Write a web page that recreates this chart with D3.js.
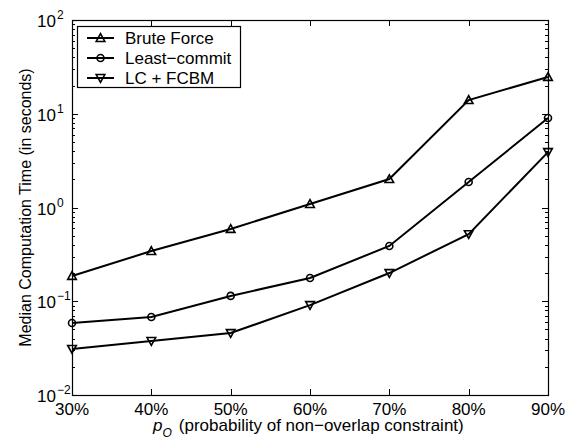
<!DOCTYPE html>
<html>
<head>
<meta charset="utf-8">
<script src="https://cdn.jsdelivr.net/npm/d3@7"></script>
<style>
	body { margin: 0; background: #fff; }
	svg { display: block; font-family: "Liberation Sans", Arial, sans-serif; }
</style>
</head>
<body>
<div id="chart"></div>
<script>
;(function(){
	var w = 573;
	var h = 441;

	// data
	var categories = [30, 40, 50, 60, 70, 80, 90];
	var tickLabels = ["30%", "40%", "50%", "60%", "70%", "80%", "90%"];
	var bruteForce = [0.186, 0.343, 0.59, 1.09, 2.01, 14, 24.7];
	var leastCommit = [0.0586, 0.068, 0.114, 0.177, 0.389, 1.87, 9.0];
	var lcFcbm = [0.031, 0.0377, 0.0458, 0.091, 0.2, 0.52, 3.9];
	var seriesNames = ["Brute Force", "Least\u2212commit", "LC + FCBM"];
	var markers = ["up", "circle", "down"];

	var series = [bruteForce, leastCommit, lcFcbm];

	var xrange = [72, 548];
	var yrange = [395, 20];

	var xscale = d3.scaleLinear().domain([30, 90]).range(xrange);
	var yscale = d3.scaleLog().domain([0.01, 100]).range(yrange);

	var svg = d3.select("#chart").append("svg")
		.attr("width", w)
		.attr("height", h);

	// minor log ticks (left and right, inward)
	var minor = [];
	for (var e = -2; e < 2; e++) {
		for (var m = 2; m <= 9; m++) minor.push(m * Math.pow(10, e));
	}
	var g = svg.append("g").attr("stroke", "#000").attr("stroke-width", 1);
	minor.forEach(function(v){
		var y = Math.round(yscale(v)) + 0.5;
		g.append("line").attr("x1", xrange[0]).attr("x2", xrange[0] + 3).attr("y1", y).attr("y2", y);
		g.append("line").attr("x1", xrange[1]).attr("x2", xrange[1] - 3).attr("y1", y).attr("y2", y);
	});

	// major y ticks
	var majors = [0.01, 0.1, 1, 10, 100];
	majors.forEach(function(v){
		var y = Math.round(yscale(v)) + 0.5;
		g.append("line").attr("x1", xrange[0]).attr("x2", xrange[0] + 6).attr("y1", y).attr("y2", y);
		g.append("line").attr("x1", xrange[1]).attr("x2", xrange[1] - 6).attr("y1", y).attr("y2", y);
	});

	// x ticks top and bottom
	categories.forEach(function(v){
		var x = Math.round(xscale(v)) + 0.5;
		g.append("line").attr("x1", x).attr("x2", x).attr("y1", yrange[0]).attr("y2", yrange[0] - 6);
		g.append("line").attr("x1", x).attr("x2", x).attr("y1", yrange[1]).attr("y2", yrange[1] + 6);
	});

	// frame
	svg.append("rect")
		.attr("x", xrange[0] + 0.5)
		.attr("y", yrange[1] + 0.5)
		.attr("width", xrange[1] - xrange[0])
		.attr("height", yrange[0] - yrange[1])
		.attr("fill", "none")
		.attr("stroke", "#000")
		.attr("stroke-width", 1.2);

	// x tick labels
	svg.selectAll("text.x-axis-tick")
		.data(categories)
		.enter().append("text")
			.attr("class", "x-axis-tick")
			.attr("x", function(d){ return xscale(d); })
			.attr("y", yrange[0] + 20)
			.attr("fill", "#000")
			.style("text-anchor", "middle")
			.style("font-size", "17px")
			.text(function(d, i){ return tickLabels[i]; });

	// y tick labels 10^n
	svg.selectAll("text.y-axis-tick")
		.data(majors)
		.enter().append("text")
			.attr("class", "y-axis-tick")
			.attr("x", xrange[0] - 16)
			.attr("y", function(d){ return yscale(d) + 7; })
			.attr("fill", "#000")
			.style("text-anchor", "end")
			.style("font-size", "17px")
			.text("10");
	svg.selectAll("text.y-axis-exp")
		.data(majors)
		.enter().append("text")
			.attr("class", "y-axis-exp")
			.attr("x", xrange[0] - 15)
			.attr("y", function(d){ return yscale(d) - 1; })
			.attr("fill", "#000")
			.style("font-size", "12px")
			.text(function(d){
				var e = Math.round(Math.log10(d));
				return e < 0 ? "\u2212" + (-e) : "" + e;
			});

	// axis titles
	svg.append("text")
		.attr("transform", "translate(31," + ((yrange[0] + yrange[1]) / 2) + ") rotate(-90)")
		.attr("fill", "#000")
		.style("text-anchor", "middle")
		.style("font-size", "16px")
		.text("Median Computation Time (in seconds)");

	var xt = svg.append("text")
		.attr("x", 153)
		.attr("y", 431)
		.attr("fill", "#000")
		.style("font-size", "17px");
	xt.append("tspan").style("font-style", "italic").text("p");
	xt.append("tspan").attr("dy", 6).style("font-style", "italic").style("font-size", "12px").text("O");
	xt.append("tspan").attr("dy", -6).attr("dx", 7).text("(probability of non\u2212overlap constraint)");

	// lines
	var line = d3.line()
		.x(function(d, i){ return xscale(categories[i]); })
		.y(function(d){ return yscale(d); });

	function drawMarker(sel, type, x, y) {
		if (type === "circle") {
			sel.append("circle").attr("cx", x).attr("cy", y).attr("r", 3.5)
				.attr("fill", "none").attr("stroke", "#000").attr("stroke-width", 1.6);
		} else {
			var s = 4.3;
			var pts = type === "up"
				? [[x, y - s], [x + s, y + s * 0.8], [x - s, y + s * 0.8]]
				: [[x, y + s], [x + s, y - s * 0.8], [x - s, y - s * 0.8]];
			sel.append("path").attr("d", "M" + pts.join("L") + "Z")
				.attr("fill", "none").attr("stroke", "#000").attr("stroke-width", 1.6);
		}
	}

	series.forEach(function(vals, k){
		svg.append("path")
			.attr("d", line(vals))
			.attr("fill", "none")
			.attr("stroke", "#000")
			.attr("stroke-width", 2);
		var mg = svg.append("g");
		vals.forEach(function(v, i){
			drawMarker(mg, markers[k], xscale(categories[i]), yscale(v));
		});
	});

	// legend
	var lg = svg.append("g");
	lg.append("rect")
		.attr("x", 77.5).attr("y", 26.5)
		.attr("width", 163).attr("height", 61)
		.attr("fill", "#fff").attr("stroke", "#000").attr("stroke-width", 1.2);
	seriesNames.forEach(function(name, k){
		var y = 38 + k * 20;
		lg.append("line").attr("x1", 87).attr("x2", 114).attr("y1", y).attr("y2", y)
			.attr("stroke", "#000").attr("stroke-width", 2);
		drawMarker(lg, markers[k], 100.5, y);
		lg.append("text")
			.attr("x", 125).attr("y", y + 6)
			.attr("fill", "#000")
			.style("font-size", "17px")
			.text(name);
	});
})();
</script>
</body>
</html>
